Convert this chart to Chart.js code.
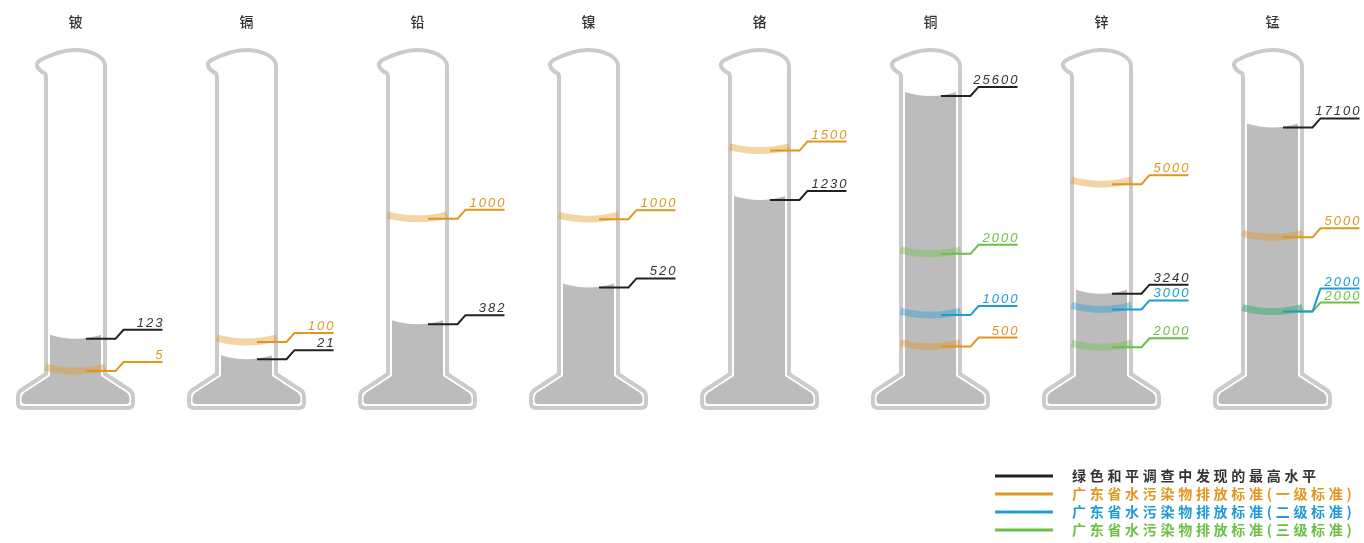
<!DOCTYPE html>
<html>
<head>
<meta charset="utf-8">
<script src="https://cdn.jsdelivr.net/npm/chart.js@4.4.1/dist/chart.umd.min.js"></script>
<style>
  html, body { margin: 0; padding: 0; background: #fff; }
  #wrap { width: 1364px; height: 543px; }
</style>
</head>
<body>
<div id="wrap"><canvas id="myChart"></canvas></div>
<script>
var metals = ['铍', '镉', '铅', '镍', '铬', '铜', '锌', '锰'];

// numbers written next to each mark
var maxFound = [123, 21, 382, 520, 1230, 25600, 3240, 17100];
var grade1 = [5, 100, 1000, 1000, 1500, 500, 5000, 5000];
var grade2 = [null, null, null, null, null, 1000, 3000, 2000];
var grade3 = [null, null, null, null, null, 2000, 2000, 2000];

// how high each mark sits in its cylinder (0 = bottom, 100 = top of tube)
var maxFoundLevel = [18.9, 13.1, 23.1, 33.6, 58.6, 88.3, 31.8, 79.3];
var grade1Level = [9.7, 18.0, 53.2, 53.1, 72.7, 16.7, 63.1, 47.9];
var grade2Level = [null, null, null, null, null, 25.7, 27.3, 26.7];
var grade3Level = [null, null, null, null, null, 43.2, 16.5, 26.7];

var seriesNames = ['绿色和平调查中发现的最高水平', '广东省水污染物排放标准(一级标准)', '广东省水污染物排放标准(二级标准)', '广东省水污染物排放标准(三级标准)'];
var seriesColors = ['#222222', '#e0961f', '#1e9bd7', '#6cbf46'];
var textColors = ['#333333', '#e0961f', '#1e9bd7', '#6cbf46'];
var bandColors = ['rgba(0,0,0,0)', 'rgba(224,150,31,0.4)', 'rgba(30,155,215,0.4)', 'rgba(108,191,70,0.4)'];

function points(levels, values) {
  var out = [];
  levels.forEach(function (lv, i) {
    if (lv !== null) out.push({ x: i, y: lv, v: values[i] });
  });
  return out;
}

var allLevels = [maxFoundLevel, grade1Level, grade2Level, grade3Level];
var allValues = [maxFound, grade1, grade2, grade3];

function outlinePath(ctx, cx, t, b) {
  ctx.beginPath();
  ctx.moveTo(cx - 29.5, t + 23);
  ctx.lineTo(cx - 29.5, b - 31);
  ctx.lineTo(cx - 54, b - 15);
  ctx.quadraticCurveTo(cx - 57.5, b - 13, cx - 57.5, b - 8);
  ctx.lineTo(cx - 57.5, b - 2);
  ctx.quadraticCurveTo(cx - 57.5, b + 3, cx - 52.5, b + 3);
  ctx.lineTo(cx + 52.5, b + 3);
  ctx.quadraticCurveTo(cx + 57.5, b + 3, cx + 57.5, b - 2);
  ctx.lineTo(cx + 57.5, b - 8);
  ctx.quadraticCurveTo(cx + 57.5, b - 13, cx + 54, b - 15);
  ctx.lineTo(cx + 29.5, b - 31);
  ctx.lineTo(cx + 29.5, t + 11);
  ctx.bezierCurveTo(cx + 29.5, t + 1, cx + 14, t - 5, cx - 1, t - 5);
  ctx.bezierCurveTo(cx - 14, t - 5, cx - 27, t + 1, cx - 35, t + 5);
  ctx.quadraticCurveTo(cx - 40, t + 8, cx - 38, t + 12);
  ctx.quadraticCurveTo(cx - 36, t + 16, cx - 31, t + 18);
  ctx.quadraticCurveTo(cx - 29.5, t + 19, cx - 29.5, t + 23);
}

function liquidPath(ctx, cx, L, b) {
  ctx.beginPath();
  ctx.moveTo(cx - 25.5, L - 4);
  ctx.quadraticCurveTo(cx, L + 4, cx + 25.5, L - 4);
  ctx.lineTo(cx + 25.5, b - 29);
  ctx.lineTo(cx + 51, b - 12.5);
  ctx.quadraticCurveTo(cx + 54, b - 10.5, cx + 54, b - 6);
  ctx.lineTo(cx + 54, b - 4);
  ctx.quadraticCurveTo(cx + 54, b - 1, cx + 50, b - 1);
  ctx.lineTo(cx - 50, b - 1);
  ctx.quadraticCurveTo(cx - 54, b - 1, cx - 54, b - 4);
  ctx.lineTo(cx - 54, b - 6);
  ctx.quadraticCurveTo(cx - 54, b - 10.5, cx - 51, b - 12.5);
  ctx.lineTo(cx - 25.5, b - 29);
  ctx.closePath();
}

var cylinders = {
  id: 'cylinders',
  beforeDatasetsDraw: function (chart) {
    var ctx = chart.ctx, ca = chart.chartArea, xs = chart.scales.x;
    var top = chart.getDatasetMeta(0).data;
    ctx.save();
    metals.forEach(function (m, i) {
      var cx = xs.getPixelForValue(i);
      liquidPath(ctx, cx, top[i].y, ca.bottom);
      ctx.fillStyle = '#bcbcbc';
      ctx.fill();
      outlinePath(ctx, cx, ca.top, ca.bottom);
      ctx.strokeStyle = '#cbcbcb';
      ctx.lineWidth = 4;
      ctx.lineJoin = 'round';
      ctx.stroke();
    });
    // meniscus bands of the standards
    for (var d = 1; d < 4; d++) {
      chart.getDatasetMeta(d).data.forEach(function (pt) {
        ctx.beginPath();
        ctx.moveTo(pt.x - 30, pt.y - 4);
        ctx.quadraticCurveTo(pt.x, pt.y + 4, pt.x + 30, pt.y - 4);
        ctx.strokeStyle = bandColors[d];
        ctx.lineWidth = 7;
        ctx.lineCap = 'butt';
        ctx.stroke();
      });
    }
    ctx.restore();
  },
  afterDatasetsDraw: function (chart) {
    var ctx = chart.ctx;
    ctx.save();
    metals.forEach(function (m, i) {
      var marks = [];
      chart.data.datasets.forEach(function (ds, d) {
        chart.getDatasetMeta(d).data.forEach(function (pt, j) {
          if (ds.data[j].x === i) marks.push({ x: pt.x, y: pt.y, d: d, v: ds.data[j].v });
        });
      });
      marks.sort(function (a, b) { return (b.y - a.y) || (b.d - a.d); });
      var prev = Infinity;
      marks.forEach(function (mk) {
        var ly = Math.min(mk.y - 9, prev - 14);
        prev = ly;
        ctx.beginPath();
        ctx.moveTo(mk.x + 10.5, mk.y);
        ctx.lineTo(mk.x + 40, mk.y);
        ctx.lineTo(mk.x + 48, ly);
        ctx.lineTo(mk.x + 87, ly);
        ctx.strokeStyle = seriesColors[mk.d];
        ctx.lineWidth = 2;
        ctx.lineJoin = 'miter';
        ctx.stroke();
        ctx.font = 'italic 13px "Liberation Sans", Arial, sans-serif';
        ctx.letterSpacing = '2px';
        ctx.fillStyle = textColors[mk.d];
        ctx.textAlign = 'right';
        ctx.textBaseline = 'alphabetic';
        ctx.fillText(String(mk.v), mk.x + 89, ly - 3);
      });
    });
    ctx.restore();
  },
  afterDraw: function (chart) {
    var ctx = chart.ctx;
    ctx.save();
    chart.data.datasets.forEach(function (ds, d) {
      var y = 476 + d * 18;
      ctx.beginPath();
      ctx.moveTo(995, y);
      ctx.lineTo(1053, y);
      ctx.strokeStyle = seriesColors[d];
      ctx.lineWidth = 3;
      ctx.stroke();
      ctx.font = 'bold 14px "Noto Sans CJK SC", sans-serif';
      ctx.letterSpacing = '3.7px';
      ctx.fillStyle = textColors[d];
      ctx.textAlign = 'left';
      ctx.textBaseline = 'middle';
      ctx.fillText(ds.label, 1072, y);
    });
    ctx.restore();
  }
};

var ctx = document.getElementById('myChart');

new Chart(ctx, {
  type: 'scatter',
  data: {
    datasets: seriesNames.map(function (name, d) {
      return {
        label: name,
        data: points(allLevels[d], allValues[d]),
        borderColor: seriesColors[d],
        backgroundColor: seriesColors[d],
        pointRadius: 0,
        pointHoverRadius: 0,
        showLine: false
      };
    })
  },
  options: {
    responsive: true,
    maintainAspectRatio: false,
    animation: false,
    events: [],
    layout: { padding: { left: 0, right: 0, top: 0, bottom: 138 } },
    plugins: {
      legend: { display: false },
      tooltip: { enabled: false }
    },
    scales: {
      x: {
        type: 'linear',
        position: 'top',
        min: -0.4415,
        max: 7.5351,
        grid: { display: false },
        border: { display: false },
        ticks: {
          stepSize: 1,
          includeBounds: false,
          maxRotation: 0,
          autoSkip: false,
          padding: 17,
          color: '#333',
          font: { family: '"Noto Sans CJK SC", sans-serif', size: 14, weight: '500' },
          callback: function (v) { return Number.isInteger(v) ? metals[v] : ''; }
        },
        afterFit: function (scale) { scale.height = 55; }
      },
      y: {
        display: false,
        min: 0,
        max: 100
      }
    }
  },
  plugins: [cylinders]
});
</script>
</body>
</html>
